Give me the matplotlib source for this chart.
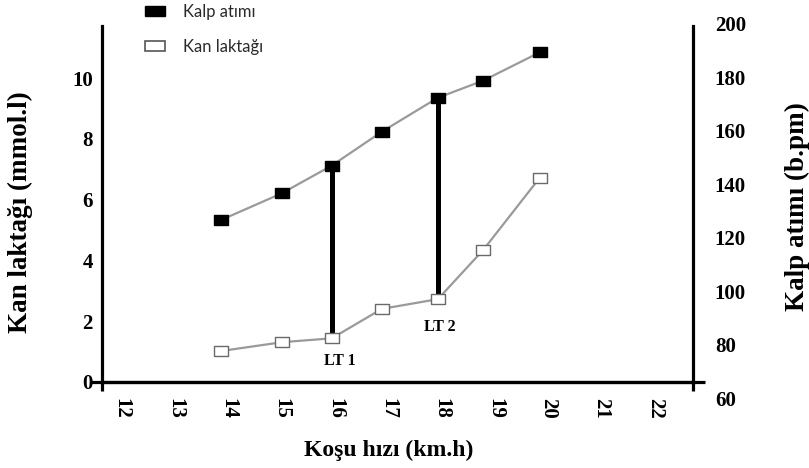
import numpy as np
import matplotlib.pyplot as plt
import matplotlib.patches as mpatches

# ==========================================
# data
# ==========================================
speed = [13.86, 15.0, 15.94, 16.88, 17.93, 18.78, 19.84]          # km.h
heart_rate = [126.6, 136.6, 147.0, 159.7, 172.4, 178.8, 189.4]    # b.pm (right axis)
lactate = [1.01, 1.30, 1.43, 2.40, 2.72, 4.34, 6.72]              # mmol.l (left axis)

lt_index = [2, 4]                # points joined by the black threshold bars
lt_labels = ['LT 1', 'LT 2']
lt_label_x = [16.09, 17.97]
lt_label_y = [0.69, 1.80]

x_ticks = list(range(12, 23))
lac_ticks = [0, 2, 4, 6, 8, 10]
hr_ticks = [60, 80, 100, 120, 140, 160, 180, 200]

SERIF = ['Liberation Serif', 'DejaVu Serif']
SANS = ['Lato', 'DejaVu Sans']

W, H = 809, 468
fig = plt.figure(figsize=(W / 100, H / 100), dpi=100)

# main axes (lactate, left scale)
L, R, B, T = 101.7, 693.3, 381.7, 26.0
ax = fig.add_axes([L / W, 1 - B / H, (R - L) / W, (B - T) / H])
ax.set_xlim(11.625, 22.72)
ax.set_ylim(0.04, 11.72)

# heart rate axes, its scale is shifted compared to the lactate one
hb, ht = 398.0, 24.0
ax2 = fig.add_axes([L / W, 1 - hb / H, (R - L) / W, (hb - ht) / H])
ax2.set_xlim(ax.get_xlim())
ax2.set_ylim(60, 200)
ax2.patch.set_visible(False)
for s in ax2.spines.values():
    s.set_visible(False)
ax2.set_xticks([])
ax2.yaxis.tick_right()
ax2.set_yticks(hr_ticks)
ax2.tick_params(axis='y', length=0, pad=15.5)
for lab in ax2.get_yticklabels():
    lab.set_family(SERIF)
    lab.set_fontweight('bold')
    lab.set_fontsize(15)

# spines
ax.spines['top'].set_visible(False)
for side in ['left', 'right', 'bottom']:
    ax.spines[side].set_linewidth(2.3)
ax.set_xticks(x_ticks)
ax.set_yticks(lac_ticks)
ax.tick_params(axis='x', length=0, pad=11.5, labelrotation=-90)
ax.tick_params(axis='y', length=0, pad=6.5)
for lab in ax.get_xticklabels() + ax.get_yticklabels():
    lab.set_family(SERIF)
    lab.set_fontweight('bold')
    lab.set_fontsize(15)

# small overshoot of the axis lines (cross at the corners)
ext_x = 11.7 / (R - L)
ext_y = 9.3 / (B - T)
ax.plot([-ext_x, 1 + ext_x], [0, 0], transform=ax.transAxes, color='black',
        lw=2.3, clip_on=False, solid_capstyle='butt')
ax.plot([0, 0], [-ext_y, 0], transform=ax.transAxes, color='black',
        lw=2.3, clip_on=False, solid_capstyle='butt')
ax.plot([1, 1], [-ext_y, 0], transform=ax.transAxes, color='black',
        lw=2.3, clip_on=False, solid_capstyle='butt')

rect = [(-1.25, -1), (1.25, -1), (1.25, 1), (-1.25, 1), (-1.25, -1)]

# lactate curve
ax.plot(speed, lactate, color='#9a9a9a', lw=1.6, marker=rect, markersize=9.5,
        markerfacecolor='white', markeredgecolor='#6a6a6a', markeredgewidth=1.0,
        zorder=4)

# heart rate curve
ax2.plot(speed, heart_rate, color='#9a9a9a', lw=1.6, marker=rect, markersize=9.5,
         markerfacecolor='black', markeredgecolor='black', zorder=4)

# threshold bars: from the lactate point up to the heart rate point
fig.canvas.draw()
for i in lt_index:
    pix = ax2.transData.transform((speed[i], heart_rate[i]))
    top = ax.transData.inverted().transform(pix)[1]
    ax.vlines(speed[i], lactate[i], top, color='black', lw=3.6, zorder=3)

for lab, x, y in zip(lt_labels, lt_label_x, lt_label_y):
    ax.text(x, y, lab, ha='center', va='center', fontsize=11.5,
            fontweight='bold', family=SERIF)

# axis titles
fig.text(20 / W, 1 - 212 / H, 'Kan laktağı (mmol.l)', rotation=90, ha='center',
         va='center', fontsize=19.5, fontweight='bold', family=SERIF)
fig.text(797 / W, 1 - 207 / H, 'Kalp atımı (b.pm)', rotation=90, ha='center',
         va='center', fontsize=19.5, fontweight='bold', family=SERIF)
fig.text(389 / W, 1 - 450 / H, 'Koşu hızı (km.h)', ha='center', va='center',
         fontsize=17, fontweight='bold', family=SERIF)

# legend
handles = [mpatches.Patch(facecolor='black', edgecolor='black', lw=1),
           mpatches.Patch(facecolor='white', edgecolor='#555555', lw=1.2)]
leg = fig.legend(handles, ['Kalp atımı', 'Kan laktağı'], loc='upper left',
                 bbox_to_anchor=(145 / W, 1 - 4 / H), frameon=False,
                 borderpad=0, borderaxespad=0, handlelength=1.2,
                 handleheight=0.56, handletextpad=1.1, labelspacing=1.12,
                 prop={'family': SANS, 'size': 12})
for t in leg.get_texts():
    t.set_color('#2a2a2a')

plt.savefig('out.png', dpi=100)
